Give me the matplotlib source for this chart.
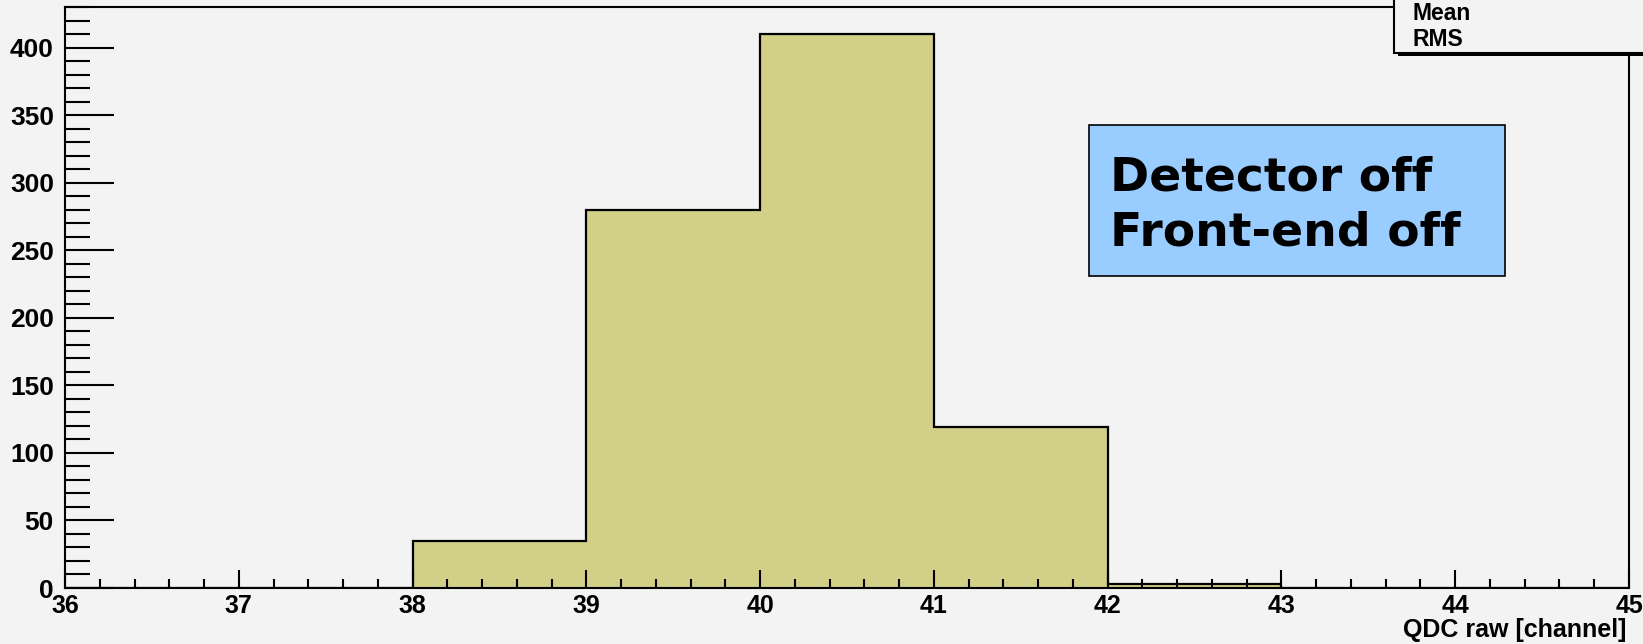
import numpy as np
import matplotlib.pyplot as plt
from matplotlib.patches import Rectangle
from matplotlib.ticker import MultipleLocator

# histogram data
edges = [36, 37, 38, 39, 40, 41, 42, 43, 44, 45]
counts = [0, 0, 35, 280, 410, 119, 3, 0, 0]
stat_names = ["Mean", "RMS"]
note_lines = ["Detector off", "Front-end off"]

W, H = 1643, 644
bg = "#f3f3f3"
fill = "#d2cf88"

# pixel -> figure fraction
def px(x, y):
    return x / W, 1 - y / H

fig = plt.figure(figsize=(W / 100, H / 100), dpi=100, facecolor=bg)
l, b = px(65, 588)
r, t = px(1629, 7)
ax = fig.add_axes([l, b, r - l, t - b], facecolor=bg)

ax.stairs(counts, edges, fill=True, facecolor=fill, edgecolor="none")
ax.stairs(counts, edges, color="black", linewidth=1.6)

ax.set_xlim(36, 45)
ax.set_ylim(0, 430)
ax.xaxis.set_major_locator(MultipleLocator(1))
ax.xaxis.set_minor_locator(MultipleLocator(0.2))
ax.yaxis.set_major_locator(MultipleLocator(50))
ax.yaxis.set_minor_locator(MultipleLocator(10))

ax.tick_params(axis="x", which="major", direction="in", length=13, width=1.5, pad=4)
ax.tick_params(axis="x", which="minor", direction="in", length=6.5, width=1.5)
ax.tick_params(axis="y", which="major", direction="in", length=35, width=1.5, pad=8)
ax.tick_params(axis="y", which="minor", direction="in", length=18, width=1.5)
for lab in ax.get_xticklabels():
    lab.set_fontfamily("Liberation Sans")
    lab.set_fontweight("bold")
    lab.set_fontsize(18)
for lab in ax.get_yticklabels():
    lab.set_fontfamily("Liberation Sans")
    lab.set_fontweight("bold")
    lab.set_fontsize(19)
for sp in ax.spines.values():
    sp.set_linewidth(1.5)

# x axis title, right-aligned under the axis end
lx, ly = px(1626, 637)
fig.text(lx, ly, "QDC raw [channel]", fontfamily="Liberation Sans", fontweight="bold",
         fontsize=18, ha="right", va="baseline")

# stats box (top right, partially cut off)
x0, y0 = px(1394, 53)
x1, y1 = px(1660, -20)
fig.patches.append(Rectangle((x0 + 4 / W, y0 - 2.5 / H), x1 - x0, y1 - y0,
                             transform=fig.transFigure, facecolor="black",
                             edgecolor="none", zorder=5))
fig.patches.append(Rectangle((x0, y0), x1 - x0, y1 - y0, transform=fig.transFigure,
                             facecolor=bg, edgecolor="black", linewidth=1.5, zorder=6))
for i, name in enumerate(stat_names):
    tx, ty = px(1413, 20 + 26 * i)
    fig.text(tx, ty, name, fontfamily="Liberation Sans", fontweight="bold",
             fontsize=16.5, va="baseline", zorder=7)

# note box
bx0, by0 = px(1089, 276)
bx1, by1 = px(1505, 125)
fig.patches.append(Rectangle((bx0, by0), bx1 - bx0, by1 - by0, transform=fig.transFigure,
                             facecolor="#99ccff", edgecolor="black", linewidth=1.2, zorder=5))
for i, line in enumerate(note_lines):
    tx, ty = px(1110, 191 + 55 * i)
    fig.text(tx, ty, line, fontfamily="DejaVu Sans", fontweight="bold",
             fontsize=34, va="baseline", zorder=7)

fig.savefig("out.png", dpi=100, facecolor=bg)
